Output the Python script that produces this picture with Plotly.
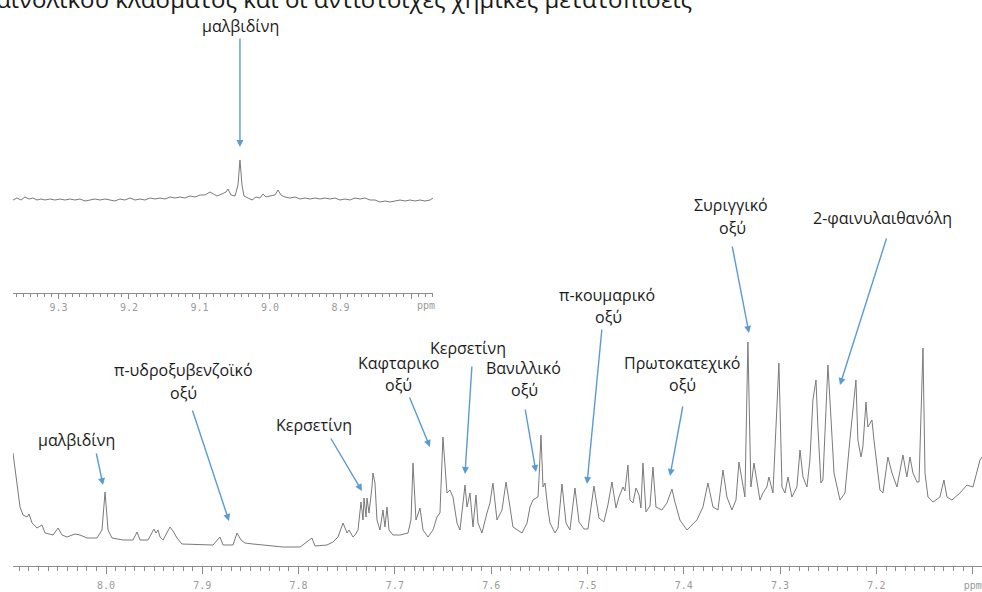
import plotly.graph_objects as go

# ---------------- data ----------------
# main spectrum: chemical shift (ppm) and intensity (arbitrary units)
main_ppm = [
    8.0966, 8.0924, 8.0893, 8.0862, 8.0820, 8.0800, 8.0768, 8.0717, 8.0665, 8.0633,
    8.0550, 8.0498, 8.0457, 8.0405, 8.0322, 8.0270, 8.0197, 8.0093, 8.0042, 8.0010,
    7.9979, 7.9938, 7.9823, 7.9720, 7.9678, 7.9647, 7.9564, 7.9502, 7.9481, 7.9460,
    7.9439, 7.9408, 7.9335, 7.9304, 7.9263, 7.9211, 7.9024, 7.8889, 7.8816, 7.8785,
    7.8681, 7.8640, 7.8598, 7.8557, 7.8474, 7.8370, 7.8162, 7.7985, 7.7861, 7.7830,
    7.7705, 7.7643, 7.7591, 7.7539, 7.7497, 7.7477, 7.7435, 7.7414, 7.7383, 7.7352,
    7.7331, 7.7321, 7.7300, 7.7290, 7.7269, 7.7238, 7.7228, 7.7207, 7.7186, 7.7155,
    7.7124, 7.7103, 7.7082, 7.7061, 7.7020, 7.6947, 7.6864, 7.6833, 7.6812, 7.6781,
    7.6739, 7.6708, 7.6656, 7.6604, 7.6563, 7.6532, 7.6501, 7.6459, 7.6428, 7.6397,
    7.6355, 7.6324, 7.6272, 7.6251, 7.6220, 7.6189, 7.6158, 7.6137, 7.6096, 7.6044,
    7.6013, 7.5982, 7.5940, 7.5888, 7.5846, 7.5805, 7.5774, 7.5680, 7.5628, 7.5597,
    7.5566, 7.5535, 7.5514, 7.5504, 7.5483, 7.5462, 7.5441, 7.5410, 7.5389, 7.5338,
    7.5306, 7.5265, 7.5223, 7.5182, 7.5130, 7.5088, 7.5036, 7.4995, 7.4933, 7.4881,
    7.4830, 7.4788, 7.4746, 7.4704, 7.4673, 7.4631, 7.4611, 7.4580, 7.4559, 7.4528,
    7.4496, 7.4465, 7.4445, 7.4424, 7.4393, 7.4351, 7.4320, 7.4289, 7.4227, 7.4175,
    7.4144, 7.4123, 7.4092, 7.4040, 7.3967, 7.3864, 7.3801, 7.3749, 7.3697, 7.3645,
    7.3593, 7.3552, 7.3500, 7.3458, 7.3427, 7.3396, 7.3365, 7.3334, 7.3303, 7.3271,
    7.3240, 7.3209, 7.3178, 7.3137, 7.3116, 7.3074, 7.3012, 7.2980, 7.2949, 7.2918,
    7.2877, 7.2825, 7.2793, 7.2762, 7.2721, 7.2690, 7.2659, 7.2627, 7.2607, 7.2576,
    7.2555, 7.2503, 7.2472, 7.2440, 7.2378, 7.2326, 7.2275, 7.2243, 7.2212, 7.2192,
    7.2160, 7.2140, 7.2108, 7.2088, 7.2046, 7.2025, 7.1994, 7.1963, 7.1932, 7.1880,
    7.1838, 7.1786, 7.1724, 7.1683, 7.1651, 7.1620, 7.1578, 7.1557, 7.1516, 7.1495,
    7.1464, 7.1412, 7.1340, 7.1298, 7.1267, 7.1215, 7.1132, 7.1059, 7.0997, 7.0924,
    7.0903,
]
main_int = [
    113, 79, 59, 51, 49, 52, 43, 38, 41, 33,
    31, 38, 31, 29, 32, 31, 28, 28, 36, 74,
    36, 28, 26, 26, 34, 26, 26, 37, 33, 36,
    29, 26, 39, 35, 28, 22, 21, 21, 29, 21,
    21, 33, 26, 23, 22, 21, 19, 19, 28, 20,
    21, 24, 29, 43, 33, 36, 29, 31, 36, 64,
    46, 68, 49, 68, 53, 79, 93, 83, 46, 36,
    56, 39, 59, 36, 31, 31, 33, 46, 103, 46,
    58, 36, 29, 36, 49, 53, 129, 73, 76, 69,
    43, 36, 81, 59, 73, 39, 71, 43, 33, 53,
    63, 83, 46, 56, 84, 59, 39, 33, 43, 59,
    66, 68, 69, 86, 131, 79, 83, 56, 43, 33,
    38, 82, 43, 36, 78, 44, 37, 37, 80, 48,
    44, 61, 84, 58, 69, 79, 75, 101, 66, 63,
    78, 71, 58, 103, 54, 60, 99, 59, 56, 63,
    71, 77, 64, 46, 36, 46, 59, 83, 59, 56,
    96, 69, 56, 66, 104, 86, 69, 224, 79, 103,
    86, 66, 73, 79, 89, 73, 203, 79, 73, 89,
    69, 79, 116, 89, 79, 106, 166, 186, 139, 83,
    86, 201, 149, 93, 66, 73, 126, 159, 186, 126,
    109, 119, 164, 139, 146, 126, 99, 76, 73, 109,
    93, 79, 111, 89, 109, 93, 84, 84, 218, 93,
    69, 64, 69, 86, 69, 66, 73, 81, 79, 106,
    109,
]

# inset spectrum (9.36 - 8.77 ppm)
inset_ppm = [
    9.3645, 9.3589, 9.3532, 9.3475, 9.3418, 9.3362, 9.3305, 9.3248, 9.3191, 9.3120,
    9.3050, 9.2979, 9.2908, 9.2837, 9.2766, 9.2695, 9.2624, 9.2553, 9.2482, 9.2411,
    9.2340, 9.2269, 9.2199, 9.2128, 9.2057, 9.1986, 9.1915, 9.1844, 9.1773, 9.1702,
    9.1631, 9.1560, 9.1489, 9.1418, 9.1347, 9.1277, 9.1206, 9.1135, 9.1064, 9.0993,
    9.0922, 9.0851, 9.0808, 9.0752, 9.0681, 9.0624, 9.0596, 9.0553, 9.0496, 9.0454,
    9.0426, 9.0397, 9.0369, 9.0312, 9.0255, 9.0199, 9.0142, 9.0099, 9.0057, 9.0000,
    8.9929, 8.9887, 8.9844, 8.9787, 8.9716, 8.9645, 8.9574, 8.9504, 8.9433, 8.9362,
    8.9291, 8.9220, 8.9149, 8.9078, 8.9007, 8.8936, 8.8865, 8.8794, 8.8723, 8.8652,
    8.8582, 8.8511, 8.8440, 8.8369, 8.8298, 8.8227, 8.8156, 8.8085, 8.8014, 8.7943,
    8.7872, 8.7801, 8.7730, 8.7688,
]
inset_int = [
    93, 95, 93, 96, 94, 95, 93, 94, 93, 94,
    93, 94, 93, 94, 93, 94, 92, 93, 94, 93,
    94, 93, 92, 94, 93, 95, 93, 94, 93, 95,
    94, 95, 94, 96, 95, 96, 95, 97, 96, 98,
    98, 101, 99, 97, 99, 101, 104, 98, 97, 108,
    133, 108, 97, 95, 93, 96, 95, 99, 96, 97,
    98, 103, 98, 96, 95, 96, 94, 95, 94, 95,
    94, 95, 94, 95, 93, 94, 93, 95, 94, 95,
    93, 93, 91, 92, 91, 92, 93, 92, 93, 92,
    93, 92, 93, 95,
]

main_ticks = [8.0, 7.9, 7.8, 7.7, 7.6, 7.5, 7.4, 7.3, 7.2, 7.1]
main_tick_text = ["8.0", "7.9", "7.8", "7.7", "7.6", "7.5", "7.4", "7.3", "7.2", "ppm"]
inset_ticks = [9.3, 9.2, 9.1, 9.0, 8.9, 8.8]
inset_tick_text = ["9.3", "9.2", "9.1", "9.0", "8.9", ""]

# assignments: name, ppm of arrow tip, intensity of arrow tip
comp_names = ["μαλβιδίνη", "π-υδροξυβενζοϊκό<br>οξύ", "Κερσετίνη", "Καφταρικο<br>οξύ",
              "Κερσετίνη", "Βανιλλικό<br>οξύ", "π-κουμαρικό<br>οξύ", "Πρωτοκατεχικό<br>οξύ",
              "Συριγγικό<br>οξύ", "2-φαινυλαιθανόλη"]
comp_ppm = [8.0031, 7.8723, 7.7342, 7.6636, 7.6272, 7.5535, 7.5005, 7.4143, 7.3323, 7.2378]
comp_int = [81, 45, 75, 119, 92, 94, 82, 90, 233, 181]
inset_name = "μαλβιδίνη"
inset_peak_ppm = 9.0426

title_text = "φαινολικού κλάσματος και οι αντίστοιχες χημικές μετατοπίσεις"

# ---------------- layout helpers ----------------
W, H = 982, 592


def px(x):
    return x / W


def py(y):
    return 1 - y / H


LINE = "#7a7a7a"
AXIS = "#8c8c8c"
TICKFONT = dict(family="DejaVu Sans Mono", size=10, color="#9a9a9a")
TXT = dict(family="Open Sans", size=16, color="#1c1c1c")
BLUE = "#5b9bd5"

fig = go.Figure()
fig.add_trace(go.Scatter(x=main_ppm, y=main_int, mode="lines",
                         line=dict(color=LINE, width=1), xaxis="x", yaxis="y",
                         showlegend=False, hoverinfo="skip"))
fig.add_trace(go.Scatter(x=inset_ppm, y=inset_int, mode="lines",
                         line=dict(color=LINE, width=1), xaxis="x2", yaxis="y2",
                         showlegend=False, hoverinfo="skip"))

annotations = []
# title (cut at the top-left edge, as in the reference)
annotations.append(dict(text=title_text, xref="paper", yref="paper", x=px(-23), y=py(-1),
                        xanchor="left", yanchor="middle", showarrow=False,
                        font=dict(family="Open Sans", size=24, color="#1a1a1a")))

# label positions in pixels: (center x, center y of each line)
label_pos = [
    [(76, 440)],
    [(183, 370), (183, 393)],
    [(314, 425)],
    [(398, 363), (398, 385)],
    [(468, 348)],
    [(523, 368), (524, 390)],
    [(607, 295), (608, 317)],
    [(682, 363), (682, 385)],
    [(731, 205), (732, 228)],
    [(882, 218)],
]
# arrow tail offsets (pixels, relative to the tip)
tail_off = [(-7, -33), (-37, -112), (-32, -54), (-21, -51), (7, -109),
            (-11, -64), (15, -156), (13, -71), (-17, -88), (47, -148)]

for name, pos, ppm, inten, (ax, ay) in zip(comp_names, label_pos, comp_ppm, comp_int, tail_off):
    for line_txt, (lx, ly) in zip(name.split("<br>"), pos):
        annotations.append(dict(text=line_txt, xref="paper", yref="paper", x=px(lx), y=py(ly),
                                xanchor="center", yanchor="middle", showarrow=False, font=TXT))
    annotations.append(dict(text="", x=ppm, y=inten, xref="x", yref="y", ax=ax, ay=ay,
                            axref="pixel", ayref="pixel", showarrow=True, arrowhead=2,
                            arrowsize=1, arrowwidth=1.4, arrowcolor=BLUE, standoff=0))

# inset label and arrow
annotations.append(dict(text=inset_name, xref="paper", yref="paper", x=px(240), y=py(26),
                        xanchor="center", yanchor="middle", showarrow=False, font=TXT))
annotations.append(dict(text="", x=inset_peak_ppm, y=py(147), xref="x2", yref="paper",
                        ax=0, ay=-110, axref="pixel", ayref="pixel", showarrow=True,
                        arrowhead=2, arrowsize=1, arrowwidth=1.4, arrowcolor=BLUE, standoff=0))
annotations.append(dict(text="ppm", xref="paper", yref="paper", x=px(426), y=py(305),
                        xanchor="center", yanchor="middle", showarrow=False, font=TICKFONT))

axis_common = dict(showline=True, linecolor=AXIS, linewidth=1, ticks="outside",
                   tickcolor=AXIS, showgrid=False, zeroline=False, tickfont=TICKFONT,
                   fixedrange=True)

fig.update_layout(
    width=W, height=H, margin=dict(l=0, r=0, t=0, b=0),
    paper_bgcolor="white", plot_bgcolor="white", showlegend=False,
    xaxis=dict(domain=[px(13), 1], range=[8.0966, 7.0903], anchor="y",
               tickmode="array", tickvals=main_ticks, ticktext=main_tick_text,
               ticklen=7, ticklabelstandoff=3,
               minor=dict(dtick=0.01, tick0=8.0, ticks="outside", ticklen=4, tickcolor=AXIS),
               **axis_common),
    yaxis=dict(domain=[py(566), py(300)], range=[0, 266], visible=False, fixedrange=True),
    xaxis2=dict(domain=[px(13), px(433)], range=[9.3645, 8.7688], anchor="y2",
                tickmode="array", tickvals=inset_ticks, ticktext=inset_tick_text,
                ticklen=5, ticklabelstandoff=0,
                minor=dict(dtick=0.01, tick0=9.0, ticks="outside", ticklen=3, tickcolor=AXIS),
                **axis_common),
    yaxis2=dict(domain=[py(293), py(150)], range=[0, 143], visible=False, fixedrange=True),
    annotations=annotations,
)

fig.write_html("out.html")
